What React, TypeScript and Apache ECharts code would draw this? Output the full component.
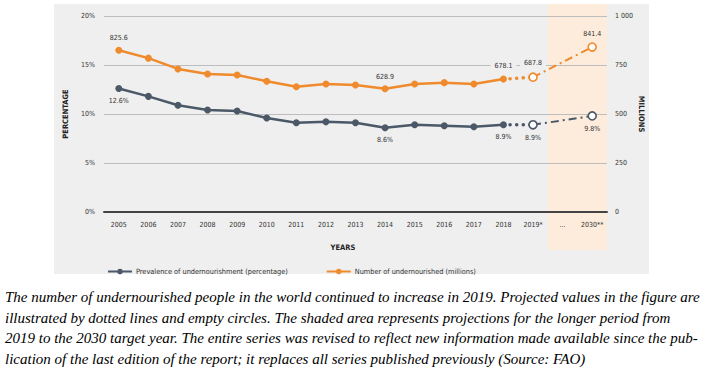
import React, { useEffect, useRef } from 'react';
import * as echarts from 'echarts';

const years = ['2005', '2006', '2007', '2008', '2009', '2010', '2011', '2012', '2013', '2014', '2015', '2016', '2017', '2018', '2019*', '...', '2030**'];
const prevalence: (number | null)[] = [12.6, 11.8, 10.9, 10.4, 10.3, 9.6, 9.1, 9.2, 9.1, 8.6, 8.9, 8.8, 8.7, 8.9, 8.9, null, 9.8];
const undernourished: (number | null)[] = [825.6, 785.0, 730.0, 704.0, 699.0, 667.0, 639.0, 653.0, 648.0, 628.9, 653.0, 660.0, 653.0, 678.1, 687.8, null, 841.4];
const labeledIdx = [0, 9, 13, 14, 16];
const lastObservedIdx = 13; // 2018
const firstProjectedIdx = 14; // 2019*
const percentTicks = [0, 5, 10, 15, 20];
const millionTicks = [0, 250, 500, 750, 1000];
const millionTickLabels = ['0', '250', '500', '750', '1 000'];
const captionLines = [
  'The number of undernourished people in the world continued to increase in 2019. Projected values in the figure are',
  'illustrated by dotted lines and empty circles. The shaded area represents projections for the longer period from',
  '2019 to the 2030 target year. The entire series was revised to reflect new information made available since the pub-',
  'lication of the last edition of the report; it replaces all series published previously (Source: FAO)',
];

const ORANGE = '#EF8A2D';
const GRAY = '#4B5867';
const PANEL = '#EFEFEF';
const SHADE = '#FDEBDC';
const TXT = '#333333';
const FONT = '"Liberation Sans Narrow", "DejaVu Sans Condensed", "Roboto Condensed", sans-serif';

type Lbl = { position: 'top' | 'bottom'; formatter: string; bg?: boolean };

function segment(arr: (number | null)[], from: number, to: number, labels: Record<number, Lbl>) {
  return arr.map((v, i) => {
    if (i < from || i > to || v == null) return null;
    const l = labels[i];
    if (!l) return v;
    return {
      value: v,
      label: {
        show: true,
        position: l.position,
        formatter: l.formatter,
        distance: 5,
        color: TXT,
        fontSize: 7,
        fontFamily: FONT,
        backgroundColor: l.bg ? PANEL : 'transparent',
        padding: l.bg ? [1, 4] : 0,
      },
    };
  });
}

export default function App() {
  const ref = useRef<HTMLDivElement>(null);
  useEffect(() => {
    if (!ref.current) return;
    const chart = echarts.init(ref.current, null, { renderer: 'svg' });

    const numLabels: Record<number, Lbl> = {};
    const pctLabels: Record<number, Lbl> = {};
    labeledIdx.forEach((i) => {
      const n = undernourished[i];
      const p = prevalence[i];
      if (n != null) numLabels[i] = { position: 'top', formatter: n.toFixed(1), bg: i === 13 || i === 14 };
      if (p != null) pctLabels[i] = { position: 'bottom', formatter: p.toFixed(1) + '%' };
    });

    const solidBase = (name: string, color: string, arr: (number | null)[], labels: Record<number, Lbl>, yIdx: number) => ({
      name,
      type: 'line',
      yAxisIndex: yIdx,
      data: segment(arr, 0, lastObservedIdx, labels),
      symbol: 'circle',
      symbolSize: 7,
      showSymbol: true,
      itemStyle: { color },
      lineStyle: { color, width: 2.5 },
      z: 5,
    });
    const dotted = (color: string, arr: (number | null)[], yIdx: number) => ({
      type: 'line',
      yAxisIndex: yIdx,
      data: segment(arr, lastObservedIdx, firstProjectedIdx, {}),
      showSymbol: false,
      symbol: 'none',
      lineStyle: { color, width: 3.5, type: [0.1, 6.5], cap: 'round' },
      z: 4,
    });
    const projected = (color: string, arr: (number | null)[], labels: Record<number, Lbl>, yIdx: number) => ({
      type: 'line',
      yAxisIndex: yIdx,
      data: segment(arr, firstProjectedIdx, years.length - 1, labels),
      connectNulls: true,
      symbol: 'circle',
      symbolSize: 8,
      showSymbol: true,
      itemStyle: { color: '#FFFFFF', borderColor: color, borderWidth: 1.6 },
      lineStyle: { color, width: 2, type: [8, 4, 2, 4] },
      z: 6,
    });

    const staticGraphics: any[] = [
      { type: 'rect', z: -20, shape: { x: 54, y: 4, width: 595, height: 270 }, style: { fill: PANEL } },
      {
        type: 'text', x: 65, y: 114, rotation: Math.PI / 2,
        style: { text: 'PERCENTAGE', fontSize: 7.5, fontWeight: 'bold', fontFamily: FONT, fill: '#222', align: 'center', verticalAlign: 'middle' },
      },
      {
        type: 'text', x: 641, y: 114, rotation: -Math.PI / 2,
        style: { text: 'MILLIONS', fontSize: 7.5, fontWeight: 'bold', fontFamily: FONT, fill: '#222', align: 'center', verticalAlign: 'middle' },
      },
      {
        type: 'text', x: 343, y: 247,
        style: { text: 'YEARS', fontSize: 7.5, fontWeight: 'bold', fontFamily: FONT, fill: '#222', align: 'center', verticalAlign: 'middle' },
      },
      ...captionLines.map((t, i) => ({
        type: 'text', x: 5, y: 297 + i * 20.6,
        style: { text: t, fontSize: 15, fontStyle: 'italic', fontFamily: '"Liberation Serif", "DejaVu Serif", serif', fill: '#000', align: 'left', verticalAlign: 'middle' },
      })),
    ];

    chart.setOption({
      animation: false,
      backgroundColor: '#FFFFFF',
      textStyle: { fontFamily: FONT },
      grid: { left: 104, right: 95, top: 16, bottom: 155, containLabel: false },
      legend: {
        left: 102, top: 263, itemWidth: 24, itemHeight: 7, itemGap: 38,
        data: ['Prevalence of undernourishment (percentage)', 'Number of undernourished (millions)'],
        textStyle: { fontSize: 7.3, color: TXT, fontFamily: FONT, padding: [0, 0, 0, -1] },
        selectedMode: false,
      },
      xAxis: {
        type: 'category', data: years, boundaryGap: true,
        axisLine: { show: true, lineStyle: { color: '#444', width: 2 } },
        axisTick: { show: false },
        axisLabel: { color: TXT, fontSize: 7, fontFamily: FONT, margin: 9, interval: 0 },
        splitLine: { show: false },
      },
      yAxis: [
        {
          type: 'value', min: percentTicks[0], max: percentTicks[percentTicks.length - 1], interval: 5,
          axisLine: { show: false }, axisTick: { show: false },
          axisLabel: { color: TXT, fontSize: 7, fontFamily: FONT, margin: 9, formatter: (v: number) => v + '%' },
          splitLine: { show: true, lineStyle: { color: '#BDBDBD', width: 1 } },
        },
        {
          type: 'value', min: millionTicks[0], max: millionTicks[millionTicks.length - 1], interval: 250,
          axisLine: { show: false }, axisTick: { show: false },
          axisLabel: {
            color: TXT, fontSize: 7, fontFamily: FONT, margin: 8,
            formatter: (v: number) => millionTickLabels[millionTicks.indexOf(v)] ?? String(v),
          },
          splitLine: { show: false },
        },
      ],
      graphic: staticGraphics,
      series: [
        solidBase('Prevalence of undernourishment (percentage)', GRAY, prevalence, pctLabels, 0),
        dotted(GRAY, prevalence, 0),
        projected(GRAY, prevalence, pctLabels, 0),
        solidBase('Number of undernourished (millions)', ORANGE, undernourished, numLabels, 1),
        dotted(ORANGE, undernourished, 1),
        projected(ORANGE, undernourished, numLabels, 1),
      ],
    });

    // Shaded projection band, positioned via the category axis scale
    const a = chart.convertToPixel({ xAxisIndex: 0 }, '...') as number;
    const b = chart.convertToPixel({ xAxisIndex: 0 }, '2030**') as number;
    const band = b - a;
    chart.setOption({
      graphic: [
        ...staticGraphics,
        { type: 'rect', z: -10, shape: { x: a - band / 2, y: 4, width: band * 2, height: 246 }, style: { fill: SHADE } },
      ],
    });

    return () => chart.dispose();
  }, []);

  return (
    <div style={{ position: 'absolute', left: 0, top: 0, width: 702, height: 367, background: '#fff' }}>
      <div ref={ref} style={{ width: 702, height: 367 }} />
    </div>
  );
}
